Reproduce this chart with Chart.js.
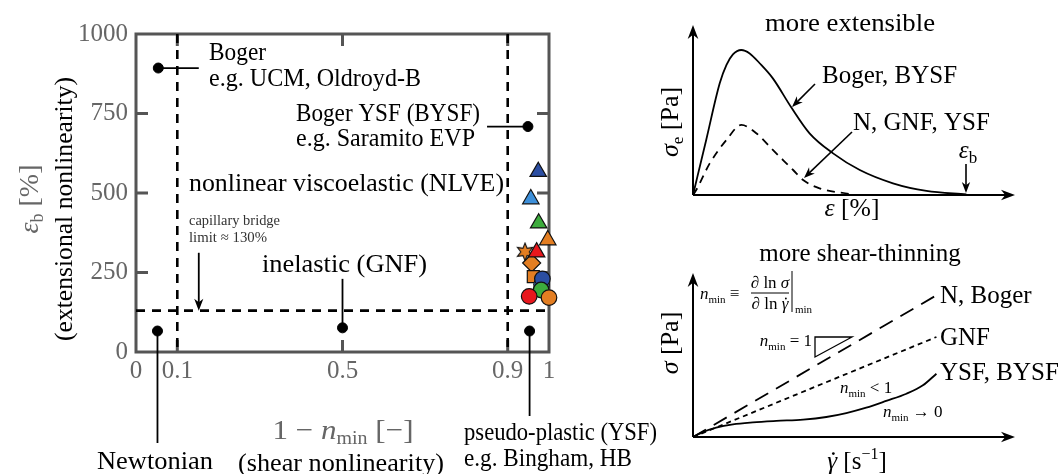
<!DOCTYPE html>
<html>
<head>
<meta charset="utf-8">
<script src="https://cdn.jsdelivr.net/npm/chart.js@4.4.1/dist/chart.umd.min.js"></script>
<style>
  html, body { margin: 0; padding: 0; background: #fff; }
  #wrap { position: relative; width: 1063px; height: 474px; overflow: hidden; }
  canvas { position: absolute; }
</style>
</head>
<body>
<div id="wrap">
  <canvas id="mapChart" width="700" height="474" style="left:0;top:0"></canvas>
  <canvas id="extChart" width="413" height="237" style="left:650px;top:0"></canvas>
  <canvas id="shearChart" width="413" height="237" style="left:650px;top:237px"></canvas>
</div>
<script>
const SERIF = '"Liberation Serif", "DejaVu Serif", serif';
const GREY = '#666';
const FRAME = '#555';

// classification map: x = 1 - n_min, y = strain at break (%)
const xTicks = [0, 0.1, 0.5, 0.9, 1];
const yTicks = [0, 250, 500, 750, 1000];
const shearBounds = [0.1, 0.9];
const capillaryLimit = 130;

// Boger, BYSF, Newtonian, GNF, YSF
const classX = [0.054, 0.949, 0.052, 0.5, 0.953];
const classY = [893, 709, 66, 76, 66];

// measured fluids
const fluidX = [0.974, 0.956, 0.975, 0.997, 0.942, 0.958, 0.970, 0.962, 0.982, 0.984, 0.981, 0.952, 1.0];
const fluidY = [567, 481, 405, 352, 315, 280, 314, 237, 212, 230, 195, 175, 171];
const fluidColor = ['#2b4ea2', '#3d8fd9', '#3cab3c', '#e37e22', '#e37e22', '#e37e22', '#e8171d',
                    '#e37e22', '#3d8fd9', '#2b4ea2', '#3cab3c', '#e8171d', '#e37e22'];
const fluidShape = ['triangle', 'triangle', 'triangle', 'triangle', 'star', 'rectRot', 'triangle',
                    'rect', 'circle', 'circle', 'circle', 'circle', 'circle'];

// extension sketch (arbitrary units)
const bogerStrain = [0, 4.1, 8.3, 10.4, 12.4, 15.0, 17.6, 20.7, 24.8, 30.5, 36.2, 43.5, 51.8, 62.1, 72.5, 84.9];
const bogerStress = [0, 32.4, 65.7, 76.5, 82.7, 85.3, 83.3, 77.5, 68.6, 51.6, 36.3, 24.5, 14.7, 6.9, 2.4, 0.3];
const inelStrain = [0, 1.0, 5.2, 10.4, 15.0, 19.7, 24.8, 31.1, 34.2, 39.3, 48.7];
const inelStress = [0, 2.9, 18.6, 32.4, 41.2, 36.3, 26.5, 14.7, 8.8, 3.9, 0.6];

// shear sketch (arbitrary units)
const newtRate = [0, 75.6];
const newtStress = [0, 86.4];
const gnfRate = [0, 75.6];
const gnfStress = [0, 61];
const ysfRate = [0, 3.1, 7.2, 12.4, 18.6, 25.9, 34.2, 41.4, 47.6, 53.8, 60.0, 66.3, 71.4, 75.6];
const ysfStress = [0, 3.0, 5.7, 7.7, 8.9, 9.8, 10.6, 12.2, 14.6, 17.9, 22.0, 26.4, 31.5, 38.6];

const pts = (xs, ys) => xs.map((x, i) => ({ x: x, y: ys[i] }));

function starImage(fill) {
  const c = document.createElement('canvas');
  c.width = 20; c.height = 20;
  const g = c.getContext('2d');
  g.beginPath();
  for (let i = 0; i < 12; i++) {
    const r = i % 2 ? 4.2 : 8.8;
    const a = -Math.PI / 2 + i * Math.PI / 6;
    g.lineTo(10 + r * Math.cos(a), 10 + r * Math.sin(a));
  }
  g.closePath();
  g.fillStyle = fill; g.fill();
  g.lineWidth = 1.1; g.strokeStyle = '#111'; g.stroke();
  return c;
}

function markerRadius(shape) {
  if (shape === 'triangle') return 9.5;
  if (shape === 'rect') return 8.5;
  if (shape === 'rectRot') return 9;
  return 7.8;
}

// text pieces: [string, size, italic, dy, dotted]
const t = (s, size, it, dy, dot) => [s, size || 25, !!it, dy || 0, !!dot];
const fontOf = p => (p[2] ? 'italic ' : '') + p[1] + 'px ' + SERIF;

// draws a run of text pieces; fitW squeezes/stretches the run horizontally to that width
function drawRich(ctx, parts, x, y, align, color, fitW) {
  ctx.save();
  ctx.fillStyle = color || '#000';
  ctx.textBaseline = 'alphabetic';
  ctx.textAlign = 'left';
  let w = 0;
  parts.forEach(p => { ctx.font = fontOf(p); w += ctx.measureText(p[0]).width; });
  const k = fitW ? fitW / w : 1;
  const total = w * k;
  const start = align === 'center' ? x - total / 2 : align === 'right' ? x - total : x;
  ctx.translate(start, y);
  ctx.scale(k, 1);
  let cx = 0;
  parts.forEach(p => {
    ctx.font = fontOf(p);
    const pw = ctx.measureText(p[0]).width;
    ctx.fillText(p[0], cx, p[3]);
    if (p[4]) {
      ctx.beginPath();
      ctx.arc(cx + pw * 0.62, p[3] - p[1] * 0.62, p[1] * 0.055, 0, Math.PI * 2);
      ctx.fill();
    }
    cx += pw;
  });
  ctx.restore();
}

function drawRotated(ctx, parts, x, y, color, fitW) {
  ctx.save();
  ctx.translate(x, y);
  ctx.rotate(-Math.PI / 2);
  drawRich(ctx, parts, 0, 0, 'center', color, fitW);
  ctx.restore();
}

function line(ctx, x1, y1, x2, y2, width, dash) {
  ctx.save();
  ctx.beginPath();
  ctx.lineWidth = width || 1.6;
  ctx.strokeStyle = '#000';
  ctx.setLineDash(dash || []);
  ctx.moveTo(x1, y1);
  ctx.lineTo(x2, y2);
  ctx.stroke();
  ctx.restore();
}

function arrow(ctx, x1, y1, x2, y2, head, width) {
  head = head || 11;
  const a = Math.atan2(y2 - y1, x2 - x1);
  const c = Math.cos(a), s = Math.sin(a);
  line(ctx, x1, y1, x2 - head * 0.6 * c, y2 - head * 0.6 * s, width);
  ctx.save();
  ctx.fillStyle = '#000';
  ctx.beginPath();
  ctx.moveTo(x2, y2);
  ctx.lineTo(x2 - head * c + head * 0.38 * s, y2 - head * s - head * 0.38 * c);
  ctx.lineTo(x2 - head * 0.7 * c, y2 - head * 0.7 * s);
  ctx.lineTo(x2 - head * c - head * 0.38 * s, y2 - head * s + head * 0.38 * c);
  ctx.closePath();
  ctx.fill();
  ctx.restore();
}

const mapDecor = {
  id: 'mapDecor',
  beforeDatasetsDraw(chart) {
    const { ctx, chartArea: a, scales: { x, y } } = chart;
    ctx.save();
    ctx.strokeStyle = FRAME;
    ctx.lineWidth = 3;
    ctx.beginPath();
    xTicks.slice(1, -1).forEach(v => {
      const px = x.getPixelForValue(v);
      ctx.moveTo(px, a.top); ctx.lineTo(px, a.top + 12);
      ctx.moveTo(px, a.bottom); ctx.lineTo(px, a.bottom - 12);
    });
    yTicks.slice(1, -1).forEach(v => {
      const py = y.getPixelForValue(v);
      ctx.moveTo(a.left, py); ctx.lineTo(a.left + 12, py);
      ctx.moveTo(a.right, py); ctx.lineTo(a.right - 12, py);
    });
    ctx.stroke();
    ctx.strokeRect(a.left, a.top, a.right - a.left, a.bottom - a.top);
    ctx.restore();

    const dash = [9, 7];
    shearBounds.forEach(v => {
      const px = x.getPixelForValue(v);
      line(ctx, px, a.top, px, a.bottom, 2.6, dash);
    });
    const cy = y.getPixelForValue(capillaryLimit);
    line(ctx, a.left, cy, a.right, cy, 2.6, dash);

    // leaders from labels to model classes
    const X = v => x.getPixelForValue(v), Y = v => y.getPixelForValue(v);
    line(ctx, X(classX[0]), Y(classY[0]), X(0.152), Y(classY[0]), 1.8);
    line(ctx, X(0.85), Y(classY[1]), X(classX[1]), Y(classY[1]), 1.8);
    line(ctx, X(classX[2]), Y(classY[2]), X(classX[2]), 443, 1.8);
    line(ctx, X(classX[3]), Y(230), X(classX[3]), Y(classY[3]), 1.8);
    line(ctx, X(classX[4]), Y(classY[4]), X(classX[4]), 416, 1.8);
    arrow(ctx, X(0.152), Y(312), X(0.152), Y(capillaryLimit), 12, 1.8);
  },
  afterDraw(chart) {
    const ctx = chart.ctx;
    drawRich(ctx, [t('Boger')], 209, 60, 'left', '#000', 57);
    drawRich(ctx, [t('e.g. UCM, Oldroyd-B')], 209, 86, 'left', '#000', 212);
    drawRich(ctx, [t('Boger YSF (BYSF)')], 296, 121, 'left', '#000', 184);
    drawRich(ctx, [t('e.g. Saramito EVP')], 296, 146, 'left', '#000', 179);
    drawRich(ctx, [t('nonlinear viscoelastic (NLVE)')], 189, 191, 'left', '#000', 315);
    drawRich(ctx, [t('capillary bridge', 15)], 189, 225, 'left', '#333', 91);
    drawRich(ctx, [t('limit ≈ 130%', 15)], 189, 242, 'left', '#333', 78);
    drawRich(ctx, [t('inelastic (GNF)')], 262, 272, 'left', '#000', 165);
    drawRich(ctx, [t('Newtonian')], 155, 469, 'center', '#000', 116);
    drawRich(ctx, [t('(shear nonlinearity)')], 341, 471, 'center', '#000', 206);
    drawRich(ctx, [t('pseudo-plastic (YSF)')], 464, 440, 'left', '#000', 193);
    drawRich(ctx, [t('e.g. Bingham, HB')], 464, 466, 'left', '#000', 168);
    drawRich(ctx, [t('1 − ', 28), t('n', 28, true), t('min', 18, false, 5), t(' [−]', 28)], 343, 439, 'center', GREY, 141);
    drawRotated(ctx, [t('ε', 28, true), t('b', 18, false, 5), t(' [%]', 28)], 38, 199, GREY);
    drawRotated(ctx, [t('(extensional nonlinearity)')], 72, 209, '#000', 264);
  }
};

function sketchAxes(ctx, a) {
  arrow(ctx, a.left, a.bottom, a.right, a.bottom, 14, 2);
  arrow(ctx, a.left, a.bottom, a.left, a.top, 14, 2);
}

const sketchOptions = pad => ({
  responsive: false,
  animation: false,
  layout: { padding: pad },
  plugins: { legend: { display: false }, tooltip: { enabled: false } },
  scales: {
    x: { type: 'linear', min: 0, max: 100, display: false },
    y: { type: 'linear', min: 0, max: 100, display: false }
  }
});

const curve = (xs, ys, dash) => ({
  data: pts(xs, ys),
  borderColor: '#000',
  borderWidth: 1.8,
  borderDash: dash || [],
  pointRadius: 0,
  cubicInterpolationMode: 'monotone',
  fill: false,
  clip: false
});

const extDecor = {
  id: 'extDecor',
  beforeDatasetsDraw(chart) { sketchAxes(chart.ctx, chart.chartArea); },
  afterDraw(chart) {
    const ctx = chart.ctx;
    drawRich(ctx, [t('more extensible')], 200, 31, 'center', '#000', 170);
    drawRich(ctx, [t('Boger, BYSF')], 172, 83);
    drawRich(ctx, [t('N, GNF, YSF')], 203, 130);
    drawRich(ctx, [t('ε', 25, true), t('b', 17, false, 5)], 318, 158, 'center');
    drawRich(ctx, [t('ε', 25, true), t(' [%]')], 202, 216, 'center', '#000', 55);
    drawRotated(ctx, [t('σ', 26, true), t('e', 17, false, 5), t(' [Pa]', 26)], 28, 122);
    arrow(ctx, 165, 84, 142, 107, 11, 1.6);
    arrow(ctx, 202, 132, 154, 178, 11, 1.6);
    arrow(ctx, 316, 164, 316, 193, 11, 1.6);
  }
};

const shearDecor = {
  id: 'shearDecor',
  beforeDatasetsDraw(chart) { sketchAxes(chart.ctx, chart.chartArea); },
  afterDraw(chart) {
    const ctx = chart.ctx;
    drawRich(ctx, [t('more shear-thinning')], 210, 24, 'center');
    drawRich(ctx, [t('N, Boger')], 290, 66);
    drawRich(ctx, [t('GNF')], 290, 108);
    drawRich(ctx, [t('YSF, BYSF')], 290, 143);
    drawRich(ctx, [t('n', 17, true), t('min', 11, false, 4), t(' ≡ ', 17)], 50, 62);
    drawRich(ctx, [t('∂ ln ', 17), t('σ', 17, true)], 120, 51, 'center');
    line(ctx, 101, 56, 139, 56, 1);
    drawRich(ctx, [t('∂ ln ', 17), t('γ', 17, true, 0, true)], 120, 72, 'center');
    line(ctx, 142, 34, 142, 75, 1);
    drawRich(ctx, [t('min', 11)], 145, 76);
    drawRich(ctx, [t('n', 17, true), t('min', 11, false, 4), t(' = 1', 17)], 162, 109, 'right');
    ctx.save();
    ctx.strokeStyle = '#000';
    ctx.lineWidth = 1.3;
    ctx.beginPath();
    ctx.moveTo(165, 120); ctx.lineTo(165, 100); ctx.lineTo(202, 100); ctx.closePath();
    ctx.stroke();
    ctx.restore();
    drawRich(ctx, [t('n', 17, true), t('min', 11, false, 4), t(' < 1', 17)], 190, 156);
    drawRich(ctx, [t('n', 17, true), t('min', 11, false, 4), t(' → 0', 17)], 233, 180);
    drawRich(ctx, [t('γ', 25, true, 0, true), t(' [s'), t('−1', 16, false, -10), t(']')], 207, 232, 'center');
    drawRotated(ctx, [t('σ', 26, true), t(' [Pa]', 26)], 28, 106);
  }
};

function buildCharts() {
  new Chart(document.getElementById('mapChart'), {
    type: 'scatter',
    data: {
      datasets: [
        {
          data: pts(fluidX, fluidY),
          pointStyle: fluidShape.map((s, i) => s === 'star' ? starImage(fluidColor[i]) : s),
          pointRadius: fluidShape.map(markerRadius),
          backgroundColor: fluidColor,
          borderColor: '#111',
          borderWidth: 1.2,
          clip: false
        },
        {
          data: pts(classX, classY),
          pointRadius: 5,
          backgroundColor: '#000',
          borderColor: '#000',
          clip: false
        }
      ]
    },
    options: {
      responsive: false,
      animation: false,
      layout: { padding: { top: 34, right: 151, left: 0, bottom: 0 } },
      plugins: { legend: { display: false }, tooltip: { enabled: false } },
      scales: {
        x: {
          type: 'linear', min: 0, max: 1,
          grid: { display: false, drawTicks: false },
          border: { display: false },
          afterBuildTicks: s => { s.ticks = xTicks.map(v => ({ value: v })); },
          afterFit: s => { s.height = 122; },
          ticks: { color: GREY, font: { family: SERIF, size: 25 }, padding: 4, maxRotation: 0, autoSkip: false, callback: v => String(v) }
        },
        y: {
          type: 'linear', min: 0, max: 1000,
          grid: { display: false, drawTicks: false },
          border: { display: false },
          afterBuildTicks: s => { s.ticks = yTicks.map(v => ({ value: v })); },
          afterFit: s => { s.width = 136; },
          ticks: { color: GREY, font: { family: SERIF, size: 25 }, padding: 8, autoSkip: false, callback: v => String(v) }
        }
      }
    },
    plugins: [mapDecor]
  });

  new Chart(document.getElementById('extChart'), {
    type: 'line',
    data: { datasets: [curve(bogerStrain, bogerStress), curve(inelStrain, inelStress, [8, 6])] },
    options: sketchOptions({ left: 43, right: 48, top: 25, bottom: 42 }),
    plugins: [extDecor]
  });

  new Chart(document.getElementById('shearChart'), {
    type: 'line',
    data: {
      datasets: [
        curve(newtRate, newtStress, [15, 9]),
        curve(gnfRate, gnfStress, [5, 4]),
        curve(ysfRate, ysfStress)
      ]
    },
    options: sketchOptions({ left: 43, right: 48, top: 36, bottom: 37 }),
    plugins: [shearDecor]
  });
}

Promise.all([
  document.fonts.load('25px "Liberation Serif"'),
  document.fonts.load('italic 25px "Liberation Serif"')
]).catch(() => null).then(buildCharts);
</script>
</body>
</html>
